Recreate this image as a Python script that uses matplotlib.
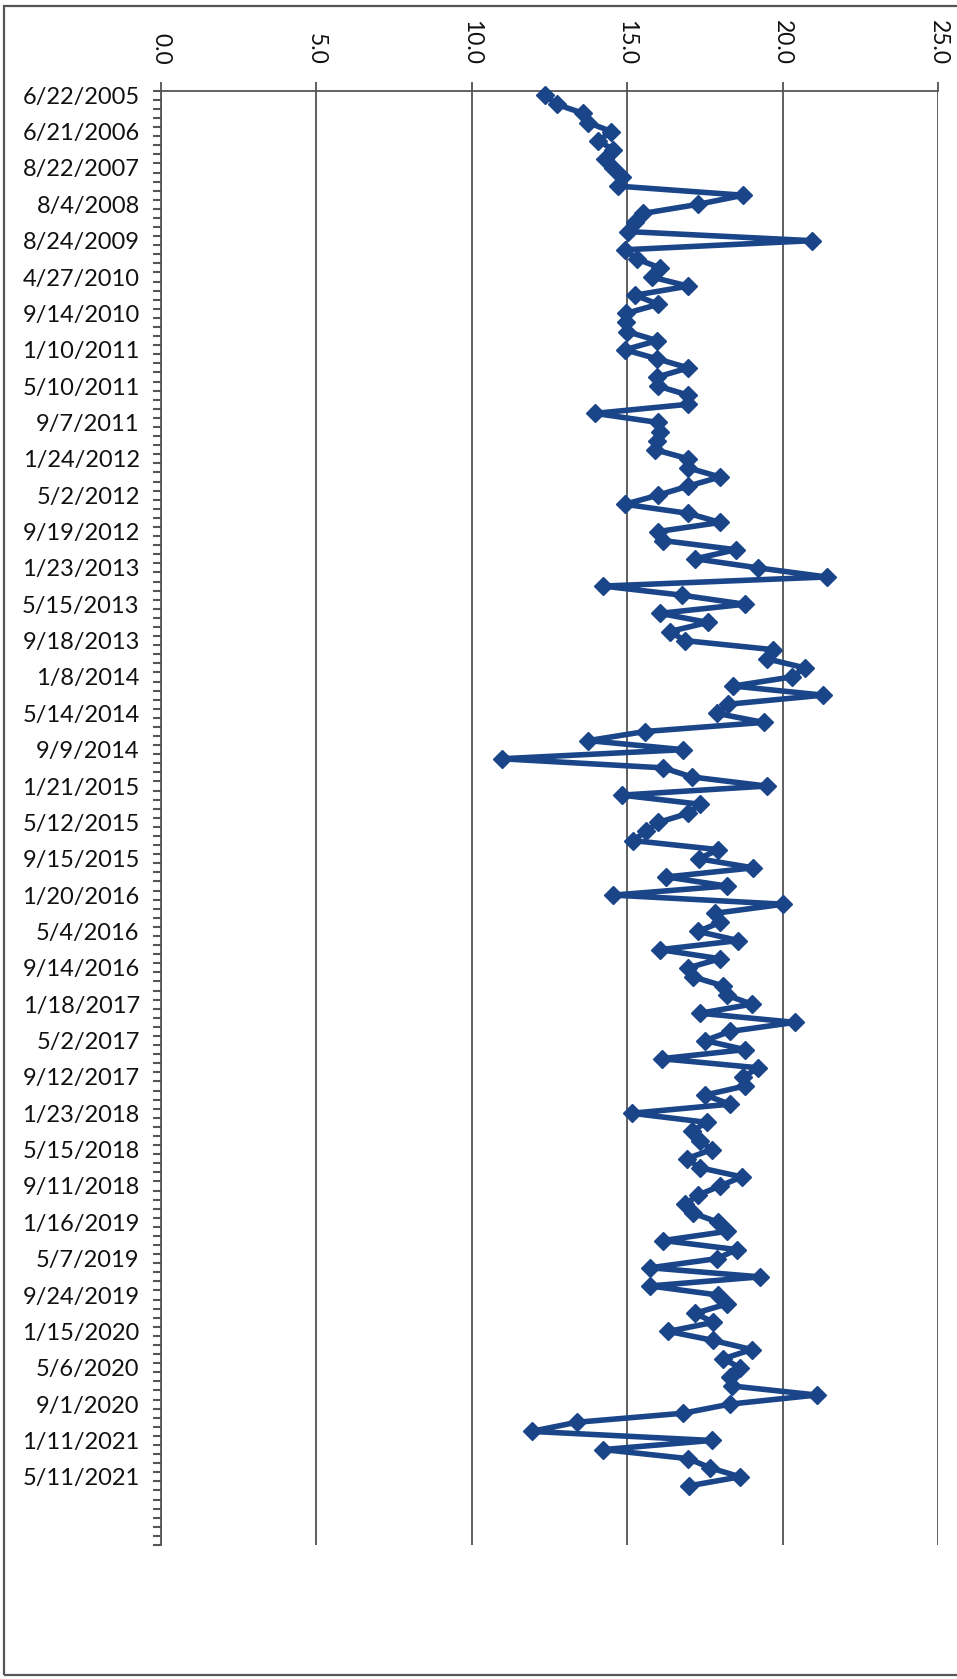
import matplotlib
matplotlib.use("Agg")
import matplotlib.pyplot as plt
import numpy as np
from matplotlib.ticker import FixedLocator, NullFormatter

# ---------------- data ----------------
label_dates = ["6/22/2005", "6/21/2006", "8/22/2007", "8/4/2008", "8/24/2009",
               "4/27/2010", "9/14/2010", "1/10/2011", "5/10/2011", "9/7/2011",
               "1/24/2012", "5/2/2012", "9/19/2012", "1/23/2013", "5/15/2013",
               "9/18/2013", "1/8/2014", "5/14/2014", "9/9/2014", "1/21/2015",
               "5/12/2015", "9/15/2015", "1/20/2016", "5/4/2016", "9/14/2016",
               "1/18/2017", "5/2/2017", "9/12/2017", "1/23/2018", "5/15/2018",
               "9/11/2018", "1/16/2019", "5/7/2019", "9/24/2019", "1/15/2020",
               "5/6/2020", "9/1/2020", "1/11/2021", "5/11/2021"]
label_every = 4          # one date label every 4 categories
n_slots = 160            # categories on the axis (incl. trailing blanks)

values = [12.36, 12.74, 13.60, 13.75, 14.50, 14.08, 14.56, 14.29, 14.56, 14.83,
          14.72, 18.74, 17.29, 15.52, 15.25, 15.04, 20.94, 14.93, 15.31, 16.06,
          15.79, 16.97, 15.26, 16.01, 14.97, 14.97, 15.00, 15.97, 14.93, 15.97,
          16.97, 15.97, 16.00, 16.97, 16.97, 13.97, 16.00, 16.06, 15.97, 15.90,
          16.97, 16.97, 17.99, 16.97, 16.00, 14.93, 16.97, 17.99, 16.00, 16.17,
          18.50, 17.19, 19.22, 21.42, 14.24, 16.76, 18.79, 16.06, 17.60, 16.38,
          16.86, 19.71, 19.49, 20.72, 20.29, 18.42, 21.31, 18.26, 17.88, 19.39,
          15.58, 13.76, 16.81, 10.97, 16.17, 17.08, 19.49, 14.83, 17.35, 16.97,
          16.01, 15.60, 15.20, 17.94, 17.30, 19.06, 16.27, 18.20, 14.56, 20.03,
          17.83, 17.99, 17.29, 18.58, 16.06, 17.99, 16.97, 17.13, 18.10, 18.20,
          19.01, 17.35, 20.40, 18.31, 17.51, 18.79, 16.11, 19.22, 18.74, 18.79,
          17.51, 18.31, 15.15, 17.56, 17.08, 17.35, 17.72, 16.92, 17.35, 18.69,
          17.99, 17.29, 16.87, 17.13, 17.94, 18.20, 16.17, 18.53, 17.88, 15.74,
          19.28, 15.74, 17.94, 18.20, 17.19, 17.78, 16.33, 17.78, 19.01, 18.10,
          18.63, 18.31, 18.37, 21.10, 18.31, 16.81, 13.38, 11.93, 17.72, 14.24,
          16.97, 17.67, 18.63, 16.98]

value_ticks = [0.0, 5.0, 10.0, 15.0, 20.0, 25.0]

# ---------------- style ----------------
plt.rcParams['font.family'] = ['Lato', 'DejaVu Sans']
line_color = '#1A4589'
grid_color = '#333333'

W, H, DPI = 957, 1679, 100
fig = plt.figure(figsize=(W / DPI, H / DPI), dpi=DPI)
fig.patch.set_facecolor('white')

left, right = 160.5 / W, 938 / W
top, bottom = 1 - 90.7 / H, 1 - 1545 / H
ax = fig.add_axes([left, bottom, right - left, top - bottom])

pos = np.arange(len(values))
ax.plot(values, pos, color=line_color, lw=4.0, marker='D', ms=9.5,
        mfc=line_color, mec=line_color, mew=1.0, solid_joinstyle='round',
        zorder=3, clip_on=False)

ax.set_xlim(value_ticks[0], value_ticks[-1])
ax.set_ylim(n_slots - 0.5, -0.5)

# value axis on top
ax.xaxis.set_ticks_position('top')
ax.xaxis.set_label_position('top')
ax.set_xticks(value_ticks)
ax.set_xticklabels([f"{v:.1f}" for v in value_ticks], rotation=-90,
                   fontsize=16.5, color='#111111')
ax.tick_params(axis='x', direction='out', length=6.5, width=1.1,
               color=grid_color, pad=12)
ax.grid(axis='x', color=grid_color, lw=1.1)
ax.set_axisbelow(True)

# category axis on the left
label_pos = np.arange(len(label_dates)) * label_every
ax.yaxis.set_major_locator(FixedLocator(label_pos))
ax.set_yticklabels(label_dates, fontsize=17, color='#111111')
ax.tick_params(axis='y', which='major', length=0, pad=15)
ax.yaxis.set_minor_locator(FixedLocator(np.arange(n_slots + 1) - 0.5))
ax.yaxis.set_minor_formatter(NullFormatter())
ax.tick_params(axis='y', which='minor', direction='out', length=6,
               width=1.5, color='#555555')

for s in ['right', 'bottom']:
    ax.spines[s].set_visible(False)
ax.spines['top'].set_color('#555555')
ax.spines['top'].set_linewidth(1.3)
ax.spines['left'].set_color('#555555')
ax.spines['left'].set_linewidth(1.3)

# outer chart border
border = plt.Rectangle((3.5 / W, 4 / H), 1.2, 1 - 10 / H,
                       transform=fig.transFigure, fill=False,
                       edgecolor='#555555', lw=1.6)
fig.add_artist(border)

fig.savefig('out.png', dpi=DPI, facecolor='white')
